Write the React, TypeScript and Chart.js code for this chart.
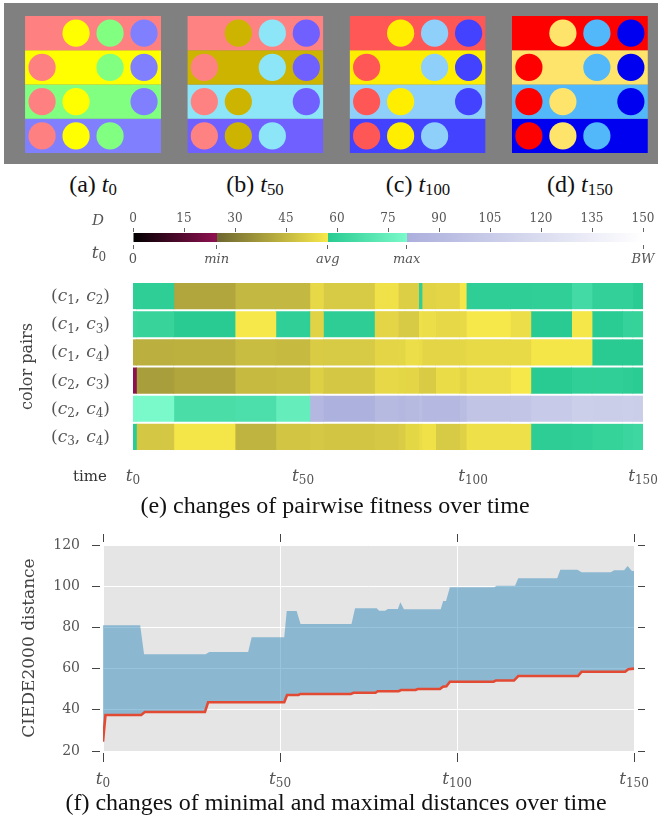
import React, { useEffect, useRef } from 'react';
import { Chart, registerables } from 'chart.js';

Chart.register(...registerables);

// ---------------- (a)-(d) colour snapshots ----------------
const SNAPSHOT_TAGS = ['(a)', '(b)', '(c)', '(d)'];
const SNAPSHOT_STEPS = ['0', '50', '100', '150'];
const PALETTE_T0 = ['#FF8080', '#FFFF00', '#80FF80', '#8080FF'];
const PALETTE_T50 = ['#FF8282', '#CCB400', '#8DE6F8', '#7060FF'];
const PALETTE_T100 = ['#FF5656', '#FFEE00', '#8FD0FB', '#4242FF'];
const PALETTE_T150 = ['#FF0000', '#FFE46B', '#52B8FA', '#0000F0'];
const PALETTES = [PALETTE_T0, PALETTE_T50, PALETTE_T100, PALETTE_T150];

// ---------------- colour bar ----------------
const D_LOW = 0;
const D_HIGH = 150;
const D_STEP = 15;
const T0_MIN = 24.6;
const T0_AVG = 57.3;
const T0_MAX = 80.5;
const T0_MARK_VALUES = [0, T0_MIN, T0_AVG, T0_MAX, D_HIGH];
const T0_MARK_LABELS = ['0', 'min', 'avg', 'max', 'BW'];
const CMAP_STOPS: [number, string][] = [
  [0, '#000000'], [T0_MIN, '#8F1150'],
  [T0_MIN, '#6C6631'], [T0_AVG, '#F8E94A'],
  [T0_AVG, '#29CB92'], [T0_MAX, '#7BF9CA'],
  [T0_MAX, '#ABAFDC'], [D_HIGH, '#FFFFFF'],
];

// ---------------- (e) pairwise fitness ----------------
const PAIR_IDS = [['1', '2'], ['1', '3'], ['1', '4'], ['2', '3'], ['2', '4'], ['3', '4']];
const SEGMENT_START = [0, 1, 12, 30, 42, 52, 56, 71, 78, 80, 84, 85, 89, 96, 98, 111, 117, 129, 135, 144, 147];
const SEGMENT_END = [1, 12, 30, 42, 52, 56, 71, 78, 80, 84, 85, 89, 96, 98, 111, 117, 129, 135, 144, 147, 150];
const D_C1_C2 = [59, 59, 40.5, 45, 45, 53, 49.6, 55.4, 50.7, 50.7, 59.5, 51.8, 52.3, 56.7, 59, 59, 59.4, 65, 60, 60, 58];
const D_C1_C3 = [62, 61.2, 57.5, 56.8, 59.4, 51.8, 58.5, 52.3, 49.6, 49.6, 55, 54.5, 53, 53.6, 56.9, 54.6, 57.5, 56.7, 58, 61, 60.7];
const D_C1_C4 = [42.8, 42.8, 43.3, 46, 45.6, 50, 49.6, 52.3, 52.7, 54.5, 54, 52.3, 52.3, 52.7, 53.6, 53.6, 56.3, 56.3, 57.5, 57.5, 57.5];
const D_C2_C3 = [24, 38.7, 40.5, 45.6, 46, 51, 48.7, 53, 52.7, 52.3, 50.4, 50, 54, 52.3, 54.5, 56.8, 57.5, 59.4, 59.4, 58.5, 58];
const D_C2_C4 = [80.3, 80.3, 66.6, 67.6, 74.6, 87.6, 82, 89.4, 88, 89.4, 92.3, 88.7, 88.7, 93, 99, 100, 104, 108, 107, 108, 107];
const D_C3_C4 = [58, 48.7, 56.3, 44, 48.2, 49, 48.2, 49, 50.4, 52.7, 54, 55.4, 49.6, 51.4, 55, 55, 58.5, 59.4, 60.7, 62.5, 63.5];
const PAIR_ROWS = [D_C1_C2, D_C1_C3, D_C1_C4, D_C2_C3, D_C2_C4, D_C3_C4];
const TIME_TICKS = [0, 50, 100, 150];

// ---------------- (f) min / max distances ----------------
const MAX_T = [0, 10.5, 11.6, 29, 30, 41, 42, 51.2, 51.9, 54.7, 55.8, 70.2, 71.2, 77.3, 78, 79.7, 80.5, 83.3, 84, 85, 95.4, 96.1, 96.9, 98, 110.5, 111.2, 116.4, 117.3, 128.3, 129.2, 134, 135.2, 143.4, 144.4, 147.2, 148.2, 149.4, 150];
const MAX_D = [81, 81, 67, 67, 68, 68, 75.2, 75.2, 88, 88, 81.6, 81.6, 89.3, 89.3, 88.1, 88.1, 88.9, 88.9, 92.2, 88.8, 88.8, 92.8, 92.8, 99.5, 99.5, 100.2, 100.2, 103.8, 103.8, 108, 108, 106.8, 106.8, 107.7, 107.7, 109.8, 107.4, 107.4];
const MIN_T = [0, 0.7, 10.8, 11.8, 28.8, 29.7, 51.2, 52, 55.2, 55.8, 70, 70.8, 77, 77.6, 83.5, 84.2, 88.3, 88.9, 95.2, 96, 97, 98, 110.3, 111, 116.1, 117.3, 134.2, 135.2, 147.5, 148.4, 150];
const MIN_D = [24.5, 37.5, 37.5, 38.9, 38.9, 43.7, 43.7, 47.2, 47.2, 47.7, 47.7, 48.3, 48.3, 49, 49, 49.6, 49.6, 50.1, 50.1, 51.2, 51.4, 53.6, 53.6, 54.2, 54.2, 56.4, 56.4, 58.5, 58.5, 59.7, 60];
const DIST_MIN = 20;
const DIST_MAX = 120;
const DIST_STEP = 20;

// ---------------- helpers ----------------
const MATH_FONT = "'DejaVu Serif', serif";
const TEXT_FONT = "'Liberation Serif', 'Times New Roman', serif";
const TICK_GRAY = '#555';

function hexToRgb(hex: string) {
  const n = parseInt(hex.slice(1), 16);
  return [(n >> 16) & 255, (n >> 8) & 255, n & 255];
}

function colormap(d: number): string {
  for (let i = 0; i < CMAP_STOPS.length - 1; i++) {
    const [a, ca] = CMAP_STOPS[i];
    const [b, cb] = CMAP_STOPS[i + 1];
    if (b <= a) continue;
    const last = i === CMAP_STOPS.length - 2;
    if (d >= a && (d < b || (last && d <= b))) {
      const t = (d - a) / (b - a);
      const A = hexToRgb(ca);
      const B = hexToRgb(cb);
      const c = A.map((v, k) => Math.round(v + (B[k] - v) * t));
      return `rgb(${c[0]},${c[1]},${c[2]})`;
    }
  }
  return CMAP_STOPS[CMAP_STOPS.length - 1][1];
}

type Piece = { text: string; italic?: boolean; sub?: boolean; gap?: number };

function drawPieces(ctx: CanvasRenderingContext2D, pieces: Piece[], x: number, baseline: number,
  align: 'left' | 'center' | 'right', size: number, color: string) {
  const subSize = Math.round(size * 0.72);
  const fontFor = (p: Piece) => `${p.italic ? 'italic ' : ''}${p.sub ? subSize : size}px ${MATH_FONT}`;
  let total = 0;
  const widths = pieces.map((p) => {
    ctx.font = fontFor(p);
    const w = ctx.measureText(p.text).width + (p.gap || 0);
    total += w;
    return w;
  });
  let cx = align === 'left' ? x : align === 'center' ? x - total / 2 : x - total;
  ctx.save();
  ctx.fillStyle = color;
  ctx.textAlign = 'left';
  ctx.textBaseline = 'alphabetic';
  pieces.forEach((p, i) => {
    ctx.font = fontFor(p);
    ctx.fillText(p.text, cx, baseline + (p.sub ? size * 0.2 : 0));
    cx += widths[i];
  });
  ctx.restore();
}

const SNAP_GAP = 4.774;

function makeSnapshots(canvas: HTMLCanvasElement) {
  const datasets: any[] = [];
  PALETTES.forEach((pal, s) => {
    const x0 = s * SNAP_GAP;
    pal.forEach((col, r) => {
      datasets.push({
        type: 'line',
        data: [{ x: x0, y: 4 - r }, { x: x0 + 4, y: 4 - r }],
        fill: { value: 3 - r },
        backgroundColor: col,
        borderColor: 'rgba(0,0,0,0)',
        borderWidth: 0,
        pointRadius: 0,
        order: 2,
      });
    });
    const pts: { x: number; y: number }[] = [];
    const cols: string[] = [];
    pal.forEach((_, r) => pal.forEach((col, c) => {
      if (c !== r) {
        pts.push({ x: x0 + c + 0.5, y: 3.5 - r });
        cols.push(col);
      }
    }));
    datasets.push({
      type: 'scatter',
      data: pts,
      pointBackgroundColor: cols,
      backgroundColor: cols,
      pointBorderWidth: 0,
      borderWidth: 0,
      pointRadius: 13.6,
      order: 1,
    });
  });
  return new Chart(canvas, {
    type: 'line',
    data: { datasets },
    options: {
      animation: false,
      responsive: false,
      events: [],
      layout: { padding: 0, autoPadding: false },
      plugins: { legend: { display: false }, tooltip: { enabled: false } },
      scales: {
        x: { type: 'linear', display: false, min: -0.62, max: 18.62 },
        y: { type: 'linear', display: false, min: -0.32, max: 4.38 },
      },
    } as any,
  });
}

function makeColorbar(canvas: HTMLCanvasElement) {
  const labelPlugin = {
    id: 'cbLabels',
    afterDraw(chart: any) {
      const { ctx, chartArea: a } = chart;
      drawPieces(ctx, [{ text: 'D', italic: true }], 98, a.top - 8, 'center', 15, TICK_GRAY);
      drawPieces(ctx, [{ text: 't', italic: true }, { text: '0', sub: true }], 99, a.bottom + 16, 'center', 17, TICK_GRAY);
    },
  };
  return new Chart(canvas, {
    type: 'bar',
    data: {
      labels: ['D'],
      datasets: [{
        data: [[D_LOW, D_HIGH]],
        backgroundColor: (c: any) => {
          const chart = c.chart;
          if (!chart.chartArea) return 'rgba(0,0,0,0)';
          const xs = chart.scales.x;
          const g = chart.ctx.createLinearGradient(xs.getPixelForValue(D_LOW), 0, xs.getPixelForValue(D_HIGH), 0);
          CMAP_STOPS.forEach(([v, col]) => g.addColorStop((v - D_LOW) / (D_HIGH - D_LOW), col));
          return g;
        },
        borderWidth: 0,
        barPercentage: 1,
        categoryPercentage: 1,
        inflateAmount: 0,
      }],
    },
    options: {
      indexAxis: 'y',
      animation: false,
      responsive: false,
      events: [],
      layout: { padding: { left: 133, right: 15, top: 0, bottom: 0 }, autoPadding: false },
      plugins: { legend: { display: false }, tooltip: { enabled: false } },
      scales: {
        x: {
          type: 'linear', position: 'top', min: D_LOW, max: D_HIGH,
          afterFit: (s: any) => { s.height = 33; },
          border: { display: false },
          grid: { drawOnChartArea: false, drawTicks: true, tickLength: 5, tickColor: '#666', tickWidth: 1, tickBorderDash: [4, 100] },
          ticks: { stepSize: D_STEP, autoSkip: false, maxRotation: 0, padding: 2, color: TICK_GRAY, font: { family: MATH_FONT, size: 12 } },
        },
        x2: {
          type: 'linear', position: 'bottom', min: D_LOW, max: D_HIGH,
          afterBuildTicks: (s: any) => { s.ticks = T0_MARK_VALUES.map((v) => ({ value: v })); },
          afterFit: (s: any) => { s.height = 28; },
          border: { display: false },
          grid: { drawOnChartArea: false, drawTicks: true, tickLength: 7, tickColor: '#666', tickWidth: 1, tickBorderDash: [0, 3, 4, 100] },
          ticks: {
            autoSkip: false, maxRotation: 0, padding: 3, color: TICK_GRAY,
            callback: (v: number) => {
              const i = T0_MARK_VALUES.indexOf(v);
              return i >= 0 ? T0_MARK_LABELS[i] : '';
            },
            font: (c: any) => ({ family: MATH_FONT, size: 13, style: c.tick && c.tick.value === 0 ? 'normal' : 'italic' }),
          },
        },
        y: { type: 'category', display: false },
      },
    } as any,
    plugins: [labelPlugin],
  });
}

function makeHeatmap(canvas: HTMLCanvasElement) {
  const datasets = SEGMENT_START.map((s, k) => ({
    data: PAIR_ROWS.map(() => [s, SEGMENT_END[k]]),
    backgroundColor: PAIR_ROWS.map((row) => colormap(row[k])),
    borderWidth: 0,
    grouped: false,
    barPercentage: 0.9,
    categoryPercentage: 1,
    inflateAmount: 0.4,
  }));
  const labelPlugin = {
    id: 'heatLabels',
    afterDraw(chart: any) {
      const { ctx, chartArea: a } = chart;
      const ys = chart.scales.y;
      const xs = chart.scales.x;
      PAIR_IDS.forEach(([p, q], i) => {
        const yc = ys.getPixelForValue(i);
        drawPieces(ctx, [
          { text: '(' }, { text: 'c', italic: true }, { text: p, sub: true }, { text: ',', gap: 6 },
          { text: 'c', italic: true }, { text: q, sub: true }, { text: ')' },
        ], a.left - 23, yc + 5, 'right', 17, TICK_GRAY);
      });
      TIME_TICKS.forEach((v) => {
        drawPieces(ctx, [{ text: 't', italic: true }, { text: String(v), sub: true }], xs.getPixelForValue(v), a.bottom + 30, 'center', 17, TICK_GRAY);
      });
      ctx.save();
      ctx.fillStyle = '#333';
      ctx.font = `15px ${MATH_FONT}`;
      ctx.textAlign = 'center';
      ctx.textBaseline = 'alphabetic';
      ctx.fillText('time', a.left - 43, a.bottom + 30);
      ctx.translate(28, (a.top + a.bottom) / 2);
      ctx.rotate(-Math.PI / 2);
      ctx.font = `16px ${MATH_FONT}`;
      ctx.fillStyle = '#444';
      ctx.textBaseline = 'middle';
      ctx.fillText('color pairs', 0, 0);
      ctx.restore();
    },
  };
  return new Chart(canvas, {
    type: 'bar',
    data: { labels: PAIR_IDS.map(([p, q]) => `(c${p}, c${q})`), datasets },
    options: {
      indexAxis: 'y',
      animation: false,
      responsive: false,
      events: [],
      layout: { padding: { left: 133, right: 15, top: 12, bottom: 49 }, autoPadding: false },
      plugins: { legend: { display: false }, tooltip: { enabled: false } },
      scales: {
        x: { type: 'linear', display: false, min: 0, max: 150 },
        y: { type: 'category', display: false },
      },
    } as any,
    plugins: [labelPlugin],
  });
}

function makeDistances(canvas: HTMLCanvasElement) {
  const plotPlugin = {
    id: 'plotBg',
    beforeDraw(chart: any) {
      const { ctx, chartArea: a } = chart;
      ctx.save();
      ctx.fillStyle = '#E5E5E5';
      ctx.fillRect(a.left, a.top, a.right - a.left, a.bottom - a.top);
      ctx.restore();
    },
    afterDraw(chart: any) {
      const { ctx, chartArea: a } = chart;
      const xs = chart.scales.x;
      TIME_TICKS.forEach((v) => {
        drawPieces(ctx, [{ text: 't', italic: true }, { text: String(v), sub: true }], xs.getPixelForValue(v), a.bottom + 33, 'center', 17, TICK_GRAY);
      });
    },
  };
  const tickGrid = (len: number, dash: number[], onArea: boolean) => ({
    drawOnChartArea: onArea, drawTicks: true, color: '#FFFFFF', lineWidth: 1,
    tickLength: len, tickColor: '#444', tickWidth: 1, tickBorderDash: dash,
  });
  return new Chart(canvas, {
    type: 'line',
    data: {
      datasets: [
        {
          data: MIN_T.map((t, i) => ({ x: t, y: MIN_D[i] })),
          borderColor: '#E24A33',
          borderWidth: 2.6,
          pointRadius: 0,
          fill: false,
          tension: 0,
        },
        {
          data: MAX_T.map((t, i) => ({ x: t, y: MAX_D[i] })),
          borderColor: 'rgba(0,0,0,0)',
          borderWidth: 0,
          backgroundColor: 'rgba(52,138,189,0.5)',
          pointRadius: 0,
          fill: '-1',
          tension: 0,
        },
      ],
    },
    options: {
      animation: false,
      responsive: false,
      events: [],
      layout: { padding: 0, autoPadding: false },
      plugins: { legend: { display: false }, tooltip: { enabled: false } },
      scales: {
        x: {
          type: 'linear', position: 'bottom', min: 0, max: 150,
          afterBuildTicks: (s: any) => { s.ticks = TIME_TICKS.map((v) => ({ value: v })); },
          afterFit: (s: any) => { s.height = 49; },
          border: { display: false },
          grid: tickGrid(11, [0, 2, 9, 100], true),
          ticks: { display: false },
        },
        x2: {
          type: 'linear', position: 'top', min: 0, max: 150,
          afterBuildTicks: (s: any) => { s.ticks = TIME_TICKS.map((v) => ({ value: v })); },
          afterFit: (s: any) => { s.height = 25; },
          border: { display: false },
          grid: tickGrid(11, [8, 100], false),
          ticks: { display: false },
        },
        y: {
          type: 'linear', position: 'left', min: DIST_MIN, max: DIST_MAX,
          afterFit: (s: any) => { s.width = 103; },
          border: { display: false },
          grid: tickGrid(11, [8, 100], true),
          ticks: { stepSize: DIST_STEP, padding: 12, color: TICK_GRAY, font: { family: MATH_FONT, size: 14 } },
        },
        y2: {
          type: 'linear', position: 'right', min: DIST_MIN, max: DIST_MAX,
          afterFit: (s: any) => { s.width = 24; },
          border: { display: false },
          grid: tickGrid(11, [0, 4, 7, 100], false),
          ticks: { stepSize: DIST_STEP, display: false },
        },
      },
    } as any,
    plugins: [plotPlugin],
  });
}

function Sub({ children }: { children: React.ReactNode }) {
  return <span style={{ fontSize: '0.7em', position: 'relative', top: '0.22em' }}>{children}</span>;
}

function Caption({ cx, cy, size = 24, children }: { cx: number; cy: number; size?: number; children: React.ReactNode }) {
  return (
    <div style={{
      position: 'absolute', left: cx - 320, top: cy - size * 0.68, width: 640, textAlign: 'center',
      fontFamily: TEXT_FONT, fontSize: size, lineHeight: `${size * 1.2}px`, color: '#111', whiteSpace: 'nowrap',
    }}>{children}</div>
  );
}

const SNAP_CAPTION_X = [93, 255, 418, 580];

export default function App() {
  const snapRef = useRef<HTMLCanvasElement>(null);
  const barRef = useRef<HTMLCanvasElement>(null);
  const heatRef = useRef<HTMLCanvasElement>(null);
  const distRef = useRef<HTMLCanvasElement>(null);

  useEffect(() => {
    const charts: Chart[] = [];
    if (snapRef.current) charts.push(makeSnapshots(snapRef.current));
    if (barRef.current) charts.push(makeColorbar(barRef.current));
    if (heatRef.current) charts.push(makeHeatmap(heatRef.current));
    if (distRef.current) charts.push(makeDistances(distRef.current));
    return () => charts.forEach((c) => c.destroy());
  }, []);

  return (
    <div style={{ position: 'absolute', left: 0, top: 0, width: 658, height: 823, background: '#fff', overflow: 'hidden' }}>
      <canvas ref={snapRef} width={654} height={161} style={{ position: 'absolute', left: 4, top: 3, background: '#808080' }} />
      {SNAPSHOT_TAGS.map((tag, i) => (
        <Caption key={tag} cx={SNAP_CAPTION_X[i]} cy={186}>
          {tag} <i>t</i><Sub>{SNAPSHOT_STEPS[i]}</Sub>
        </Caption>
      ))}
      <canvas ref={barRef} width={658} height={70} style={{ position: 'absolute', left: 0, top: 200 }} />
      <canvas ref={heatRef} width={658} height={230} style={{ position: 'absolute', left: 0, top: 270 }} />
      <Caption cx={335} cy={507}>(e) changes of pairwise fitness over time</Caption>
      <canvas ref={distRef} width={658} height={280} style={{ position: 'absolute', left: 0, top: 520 }} />
      <div style={{
        position: 'absolute', left: 28 - 120, top: 648 - 12, width: 240, height: 24, lineHeight: '24px',
        textAlign: 'center', transform: 'rotate(-90deg)', fontFamily: MATH_FONT, fontSize: 17, color: '#444', whiteSpace: 'nowrap',
      }}>CIEDE2000 distance</div>
      <Caption cx={336} cy={804}>(f) changes of minimal and maximal distances over time</Caption>
    </div>
  );
}
